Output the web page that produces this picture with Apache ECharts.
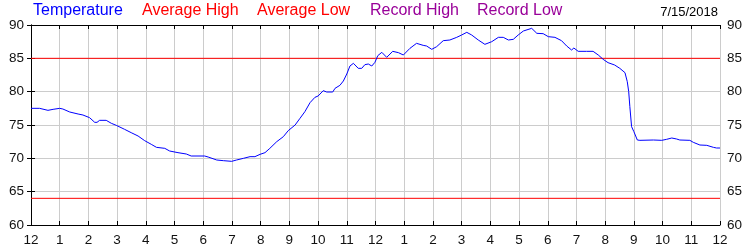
<!DOCTYPE html>
<html>
<head>
<meta charset="utf-8">
<script src="https://cdn.jsdelivr.net/npm/echarts@6/dist/echarts.min.js"></script>
<style>html,body{margin:0;padding:0;background:#fff}#c{width:750px;height:250px}</style>
</head>
<body>
<div id="c"></div>
<script>
// Hour of day (0 = midnight) of each reading
const hours = [0,0.3,0.59,0.77,1.0,1.11,1.35,1.64,1.81,2.04,2.22,2.3,2.39,2.62,2.8,2.97,3.26,3.49,3.73,3.96,4.19,4.37,4.66,4.83,5.12,5.41,5.58,6.05,6.17,6.47,6.7,6.99,7.16,7.4,7.63,7.8,7.98,8.15,8.32,8.56,8.79,8.96,9.2,9.37,9.54,9.72,9.89,10.0,10.18,10.3,10.51,10.59,10.76,10.88,11.0,11.11,11.23,11.4,11.52,11.63,11.75,11.87,11.98,12.08,12.22,12.39,12.6,12.8,12.97,13.2,13.43,13.66,13.78,13.96,14.13,14.36,14.59,14.83,15.0,15.18,15.35,15.58,15.81,16.05,16.28,16.45,16.63,16.8,16.97,17.15,17.44,17.62,17.84,18.02,18.25,18.48,18.66,18.83,18.91,19.06,19.35,19.58,19.76,19.93,20.1,20.33,20.51,20.69,20.77,20.82,20.86,20.92,21.0,21.12,21.21,21.68,21.97,22.14,22.32,22.49,22.6,22.95,23.07,23.3,23.54,23.77,23.88,24.0];
const temperature = [77.5,77.5,77.2,77.35,77.5,77.4,76.95,76.65,76.5,76.1,75.4,75.4,75.7,75.7,75.25,74.95,74.35,73.85,73.35,72.65,72.1,71.65,71.5,71.1,70.85,70.65,70.35,70.35,70.2,69.75,69.65,69.55,69.75,70.0,70.25,70.25,70.6,70.85,71.5,72.5,73.25,74.15,75.0,76.0,77.0,78.35,79.15,79.35,80.15,79.95,79.95,80.5,80.95,81.6,82.65,83.85,84.25,83.5,83.5,84.05,84.15,83.85,84.4,85.4,85.9,85.15,86.05,85.85,85.5,86.5,87.25,86.95,86.85,86.35,86.75,87.65,87.75,88.15,88.5,88.9,88.5,87.75,87.1,87.5,88.15,88.15,87.75,87.85,88.5,89.1,89.5,88.75,88.7,88.25,88.15,87.65,86.85,86.25,86.55,86.05,86.05,86.05,85.5,84.85,84.35,84.0,83.5,82.85,81.5,80.0,77.75,74.75,74.0,72.75,72.7,72.75,72.7,72.85,73.05,72.9,72.75,72.7,72.4,72.0,71.95,71.65,71.55,71.55];
const averageHigh = 85;
const averageLow = 64;
const xTickLabels = ['12','1','2','3','4','5','6','7','8','9','10','11','12','1','2','3','4','5','6','7','8','9','10','11','12'];
const legendItems = ['Temperature','Average High','Average Low','Record High','Record Low'];
const legendColors = ['#0000ff','#ff0000','#ff0000','#990099','#990099'];
const legendX = [33,142,257,370,477];
const dateLabel = '7/15/2018';

const FONT = "'Liberation Sans', Arial, sans-serif";
const chart = echarts.init(document.getElementById('c'), null, {renderer:'canvas'});
const axisCommon = {
  type:'value', min:0, max:24, interval:1,
  axisLine:{show:true, lineStyle:{color:'#000', width:1}},
  axisTick:{show:true, inside:true, length:4, lineStyle:{color:'#000'}}
};
const yCommon = {
  type:'value', min:60, max:90, interval:5,
  axisLine:{show:true, lineStyle:{color:'#000', width:1}},
  axisTick:{show:true, inside:true, length:4, lineStyle:{color:'#000'}},
  axisLabel:{color:'#111', fontSize:13.5, fontFamily:FONT, margin:7}
};
const graphics = legendItems.map((t,i)=>({
  type:'text', left:legendX[i], top:3,
  style:{text:t, fill:legendColors[i], font:'16px '+FONT}
}));
graphics.push({type:'text', right:32, top:6, style:{text:dateLabel, fill:'#000', font:'13px '+FONT}});

chart.setOption({
  animation:false,
  backgroundColor:'#fff',
  grid:{left:31, right:30, top:25, bottom:25, containLabel:false},
  xAxis:[
    Object.assign({}, axisCommon, {
      position:'bottom',
      splitLine:{show:true, lineStyle:{color:'#cccccc', width:1}},
      axisLabel:{color:'#111', fontSize:13.5, fontFamily:FONT, margin:8,
        formatter:(v)=>xTickLabels[Math.round(v)]}
    }),
    Object.assign({}, axisCommon, {
      position:'top', splitLine:{show:false}, axisLabel:{show:false}
    })
  ],
  yAxis:[
    Object.assign({}, yCommon, {position:'left', splitLine:{show:true, lineStyle:{color:'#cccccc', width:1}}}),
    Object.assign({}, yCommon, {position:'right', splitLine:{show:false}})
  ],
  graphic:graphics,
  series:[
    {name:'Average High', type:'line', data:[[0,averageHigh],[24,averageHigh]], showSymbol:false, lineStyle:{color:'#ff0000', width:1}, silent:true},
    {name:'Average Low', type:'line', data:[[0,averageLow],[24,averageLow]], showSymbol:false, lineStyle:{color:'#ff0000', width:1}, silent:true},
    {name:'Temperature', type:'line', data:hours.map((h,i)=>[h,temperature[i]]), showSymbol:false, lineStyle:{color:'#0000ff', width:1}, silent:true}
  ]
});
</script>
</body>
</html>
